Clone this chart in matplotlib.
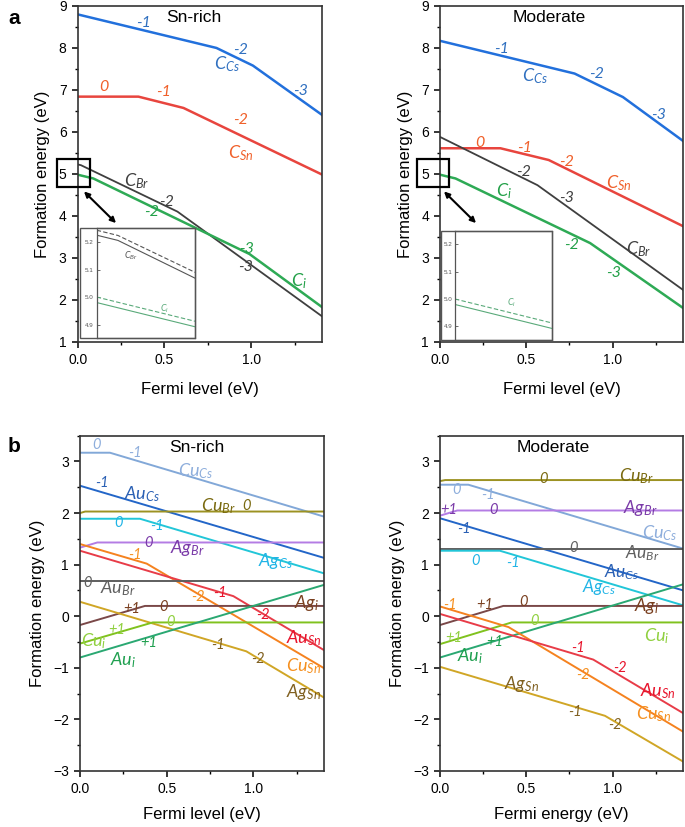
import matplotlib
matplotlib.use("Agg")
import matplotlib.pyplot as plt
from matplotlib.patches import Rectangle, FancyArrowPatch
from matplotlib.ticker import MultipleLocator, FormatStrFormatter

plt.rcParams['font.family'] = ['Liberation Sans', 'DejaVu Sans']
plt.rcParams['mathtext.fontset'] = 'custom'
plt.rcParams['mathtext.it'] = 'Lato:italic'
plt.rcParams['mathtext.rm'] = 'Lato'

# ---- a, Sn-rich: kinks of each carbon defect line (Fermi level, formation energy)
rich_ccs_x = [0.0, 0.80, 1.01, 1.41]
rich_ccs_y = [8.80, 8.00, 7.58, 6.40]
rich_csn_x = [0.0, 0.35, 0.61, 1.41]
rich_csn_y = [6.84, 6.84, 6.57, 4.98]
rich_cbr_x = [0.0, 0.019, 0.575, 1.41]
rich_cbr_y = [5.225, 5.206, 4.10, 1.60]
rich_ci_x = [0.0, 0.09, 0.99, 1.41]
rich_ci_y = [4.98, 4.89, 3.09, 1.82]

# ---- a, Moderate
mod_ccs_x = [0.0, 0.78, 1.06, 1.41]
mod_ccs_y = [8.17, 7.39, 6.83, 5.78]
mod_csn_x = [0.0, 0.35, 0.63, 1.41]
mod_csn_y = [5.61, 5.61, 5.33, 3.75]
mod_cbr_x = [0.0, 0.565, 1.41]
mod_cbr_y = [5.88, 4.73, 2.23]
mod_ci_x = [0.0, 0.09, 0.87, 1.41]
mod_ci_y = [4.98, 4.89, 3.35, 1.80]

# dashed companions shown in the zoomed insets
cbr_dash_x = [0.0, 0.019, 0.088]
cbr_dash_y = [5.243, 5.224, 5.090]
ci_dash_x = [0.0, 0.088]
ci_dash_y = [5.000, 4.912]

# ---- b, Sn-rich: metal impurity lines
b_rich = {
    'CuCs': ([0.0, 0.173, 1.41], [3.17, 3.17, 1.93]),
    'AuCs': ([0.0, 1.41], [2.53, 1.13]),
    'CuBr': ([0.0, 0.03, 1.41], [2.00, 2.03, 2.03]),
    'AgCs': ([0.0, 0.346, 1.41], [1.89, 1.89, 0.83]),
    'AgBr': ([0.0, 0.10, 1.41], [1.33, 1.43, 1.43]),
    'CuSn': ([0.0, 0.385, 1.41], [1.40, 1.02, -1.01]),
    'AuSn': ([0.0, 0.885, 1.41], [1.27, 0.39, -0.66]),
    'AuBr': ([0.0, 1.41], [0.685, 0.685]),
    'Agi': ([0.0, 0.375, 1.41], [-0.17, 0.20, 0.20]),
    'AgSn': ([0.0, 0.96, 1.41], [0.28, -0.68, -1.58]),
    'Cui': ([0.0, 0.42, 1.41], [-0.53, -0.12, -0.12]),
    'Aui': ([0.0, 1.41], [-0.80, 0.61]),
}

# ---- b, Moderate
b_mod = {
    'CuBr': ([0.0, 0.03, 1.41], [2.62, 2.64, 2.64]),
    'CuCs': ([0.0, 0.164, 1.41], [2.55, 2.55, 1.31]),
    'AgBr': ([0.0, 0.10, 1.41], [1.95, 2.05, 2.05]),
    'AuCs': ([0.0, 1.41], [1.90, 0.50]),
    'AuBr': ([0.0, 1.41], [1.30, 1.30]),
    'AgCs': ([0.0, 0.347, 1.41], [1.27, 1.27, 0.21]),
    'Agi': ([0.0, 0.367, 1.41], [-0.17, 0.20, 0.20]),
    'Cui': ([0.0, 0.415, 1.41], [-0.54, -0.12, -0.12]),
    'Aui': ([0.0, 1.41], [-0.80, 0.62]),
    'CuSn': ([0.0, 0.397, 1.41], [0.19, -0.21, -2.24]),
    'AuSn': ([0.0, 0.888, 1.41], [0.045, -0.84, -1.88]),
    'AgSn': ([0.0, 0.956, 1.41], [-0.98, -1.93, -2.82]),
}

line_col = {
    'CCs': '#2270dc', 'CSn': '#e8453e', 'CBr': '#3f3f3f', 'Ci': '#2eaa55',
    'CuCs': '#82a8d8', 'AuCs': '#2366c8', 'CuBr': '#9c9222', 'AgCs': '#22c6d8',
    'AgBr': '#b47ce4', 'CuSn': '#f5821f', 'AuSn': '#e83c48', 'AuBr': '#5e5e5e',
    'Agi': '#7a4848', 'AgSn': '#d0a626', 'Cui': '#80c21e', 'Aui': '#2aa872',
}
text_col = {
    'CCs': '#3070c0', 'CSn': '#f0602a', 'CBr': '#404040', 'Ci': '#22a048',
    'CuCs': '#8eaedc', 'AuCs': '#2a60b4', 'CuBr': '#7a6a10', 'AgCs': '#20b4e6',
    'AgBr': '#7a3aa8', 'CuSn': '#f59020', 'AuSn': '#e8142c', 'AuBr': '#606060',
    'Agi': '#7a4020', 'AgSn': '#806020', 'Cui': '#90d040', 'Aui': '#20a050',
}

W, H = 685, 827
fig = plt.figure(figsize=(W / 100, H / 100), dpi=100)


def px_axes(x0, y0, x1, y1):
    return fig.add_axes([x0 / W, 1 - y1 / H, (x1 - x0) / W, (y1 - y0) / H])


def style(ax, ylim, xlabel, xpad):
    ax.set_xlim(0, 1.41)
    ax.set_ylim(*ylim)
    ax.xaxis.set_major_locator(MultipleLocator(0.5))
    ax.xaxis.set_minor_locator(MultipleLocator(0.25))
    ax.xaxis.set_major_formatter(FormatStrFormatter('%.1f'))
    ax.yaxis.set_major_locator(MultipleLocator(1))
    ax.yaxis.set_minor_locator(MultipleLocator(0.5))
    ax.tick_params(which='major', length=4, width=1.1, labelsize=10, pad=4)
    ax.tick_params(which='minor', length=2.5, width=1.0)
    for s in ax.spines.values():
        s.set_linewidth(1.2)
        s.set_color('#333333')
    ax.set_ylabel('Formation energy (eV)', fontsize=12, labelpad=6)
    ax.set_xlabel(xlabel, fontsize=12, labelpad=xpad)


def lab(ax, txt, x, y, key, size=11.5):
    ax.text(x, y, txt, color=text_col[key], fontsize=size, fontstyle='italic',
            family='Lato', ha='center', va='center')


def sub(a, b):
    return r'$%s_{%s}$' % (a, b)


# ================= panel a =================
axL = px_axes(77.7, 6, 322.3, 341.7)
axR = px_axes(440, 6, 683.3, 341.7)
for ax in (axL, axR):
    style(ax, (1, 9), 'Fermi level (eV)', 11)

for ax, series in ((axL, [('CCs', rich_ccs_x, rich_ccs_y), ('CSn', rich_csn_x, rich_csn_y),
                          ('CBr', rich_cbr_x, rich_cbr_y), ('Ci', rich_ci_x, rich_ci_y)]),
                   (axR, [('CCs', mod_ccs_x, mod_ccs_y), ('CSn', mod_csn_x, mod_csn_y),
                          ('CBr', mod_cbr_x, mod_cbr_y), ('Ci', mod_ci_x, mod_ci_y)])):
    for key, x, y in series:
        lw = 1.3 if key == 'CBr' else 1.8
        ax.plot(x, y, color=line_col[key], lw=lw, solid_joinstyle='round')

axL.text(0.667, 8.73, 'Sn-rich', fontsize=12.5, ha='center', va='center')
axR.text(0.631, 8.73, 'Moderate', fontsize=12.5, ha='center', va='center')

for t, x, y, k in [('-1', 0.379, 8.59, 'CCs'), ('-2', 0.94, 7.95, 'CCs'), ('-3', 1.283, 6.98, 'CCs'),
                   ('0', 0.148, 7.06, 'CSn'), ('-1', 0.494, 6.96, 'CSn'), ('-2', 0.937, 6.28, 'CSn'),
                   ('-2', 0.513, 4.34, 'CBr'), ('-3', 0.965, 2.79, 'CBr'),
                   ('-2', 0.427, 4.10, 'Ci'), ('-3', 0.975, 3.22, 'Ci')]:
    lab(axL, t, x, y, k, 11.5)
lab(axL, sub('C', 'Cs'), 0.86, 7.62, 'CCs', 13)
lab(axL, sub('C', 'Sn'), 0.94, 5.50, 'CSn', 13)
lab(axL, sub('C', 'Br'), 0.34, 4.82, 'CBr', 13)
lab(axL, sub('C', 'i'), 1.273, 2.45, 'Ci', 13)

for t, x, y, k in [('-1', 0.357, 7.98, 'CCs'), ('-2', 0.907, 7.38, 'CCs'), ('-3', 1.264, 6.40, 'CCs'),
                   ('0', 0.232, 5.74, 'CSn'), ('-1', 0.492, 5.62, 'CSn'), ('-2', 0.734, 5.29, 'CSn'),
                   ('-2', 0.483, 5.05, 'CBr'), ('-3', 0.734, 4.42, 'CBr'),
                   ('-2', 0.762, 3.30, 'Ci'), ('-3', 1.003, 2.63, 'Ci')]:
    lab(axR, t, x, y, k, 11.5)
lab(axR, sub('C', 'Cs'), 0.55, 7.32, 'CCs', 13)
lab(axR, sub('C', 'Sn'), 1.035, 4.78, 'CSn', 13)
lab(axR, sub('C', 'Br'), 1.15, 3.20, 'CBr', 13)
lab(axR, sub('C', 'i'), 0.37, 4.58, 'Ci', 13)

# black boxes marking the zoomed region
for ax, x0 in ((axL, -0.12), (axR, -0.135)):
    ax.add_patch(Rectangle((x0, 4.68), 0.19, 0.67, fill=False, lw=1.6,
                           edgecolor='black', clip_on=False, zorder=5))


# insets
def inset(frame_x0, spine_x, x1, y0, y1, ci_x, ci_y, show_br):
    fig.add_artist(Rectangle((frame_x0 / W, 1 - y1 / H), (x1 - frame_x0) / W, (y1 - y0) / H,
                             transform=fig.transFigure, facecolor='white',
                             edgecolor='#555555', lw=1.0, zorder=3))
    ia = px_axes(spine_x, y0, x1, y1)
    ia.set_zorder(4)
    ia.patch.set_alpha(0)
    ia.set_xlim(0, 0.088)
    ia.set_ylim(4.85, 5.25)
    ia.set_xticks([])
    ia.set_yticks([4.9, 5.0, 5.1, 5.2])
    ia.yaxis.set_major_formatter(FormatStrFormatter('%.1f'))
    ia.tick_params(axis='y', direction='in', length=2, width=0.6, labelsize=4.5,
                   pad=2, colors='#555555')
    for s in ia.spines.values():
        s.set_linewidth(0.9)
        s.set_color('#555555')
    ia.plot(ci_dash_x, ci_dash_y, color='#5aaa7a', lw=0.8, ls=(0, (4, 2)))
    ia.plot(ci_x, ci_y, color='#5aaa7a', lw=0.8)
    if show_br:
        ia.plot(cbr_dash_x, cbr_dash_y, color='#555555', lw=0.8, ls=(0, (4, 2)))
        ia.plot(rich_cbr_x, rich_cbr_y, color='#555555', lw=0.8)
        ia.text(0.031, 5.149, sub('C', 'Br'), color='#555555', fontsize=6.5, ha='center', va='center')
        ia.text(0.061, 4.957, sub('C', 'i'), color='#5aaa7a', fontsize=6.5, ha='center', va='center')
    else:
        ia.text(0.051, 4.988, sub('C', 'i'), color='#5aaa7a', fontsize=6.5, ha='center', va='center')


inset(80, 96.7, 195, 228.3, 338.3, rich_ci_x, rich_ci_y, True)
inset(440.7, 455, 552.3, 230.7, 340, mod_ci_x, mod_ci_y, False)

for (xa, ya, xb, yb) in ((82, 189.5, 118, 225), (442, 189.5, 478, 225)):
    fig.add_artist(FancyArrowPatch(
        (xa / W, 1 - ya / H), (xb / W, 1 - yb / H), transform=fig.transFigure,
        arrowstyle='<|-|>', mutation_scale=8, lw=1.5, color='black', zorder=6))

# ================= panel b =================
bL = px_axes(80, 435.7, 324.3, 771)
bR = px_axes(440, 435.7, 683.3, 771)
style(bL, (-3, 3.5), 'Fermi level (eV)', 8)
style(bR, (-3, 3.5), 'Fermi energy (eV)', 8)

for ax, data in ((bL, b_rich), (bR, b_mod)):
    for key, (x, y) in data.items():
        ax.plot(x, y, color=line_col[key], lw=1.4)

bL.text(0.673, 3.28, 'Sn-rich', fontsize=12.5, ha='center', va='center')
bR.text(0.656, 3.28, 'Moderate', fontsize=12.5, ha='center', va='center')

names = {'CuCs': ('Cu', 'Cs'), 'AuCs': ('Au', 'Cs'), 'CuBr': ('Cu', 'Br'), 'AgCs': ('Ag', 'Cs'),
         'AgBr': ('Ag', 'Br'), 'CuSn': ('Cu', 'Sn'), 'AuSn': ('Au', 'Sn'), 'AuBr': ('Au', 'Br'),
         'Agi': ('Ag', 'i'), 'AgSn': ('Ag', 'Sn'), 'Cui': ('Cu', 'i'), 'Aui': ('Au', 'i')}

rich_names = [('CuCs', 0.67, 2.82), ('AuCs', 0.36, 2.37), ('CuBr', 0.80, 2.14), ('AgCs', 1.13, 1.07),
              ('AgBr', 0.62, 1.33), ('CuSn', 1.29, -0.96), ('AuSn', 1.29, -0.42), ('AuBr', 0.22, 0.55),
              ('Agi', 1.31, 0.26), ('Cui', 0.08, -0.48), ('Aui', 0.25, -0.85), ('AgSn', 1.29, -1.46)]
rich_charges = [('0', 0.096, 3.32, 'CuCs'), ('-1', 0.317, 3.16, 'CuCs'), ('-1', 0.125, 2.58, 'AuCs'),
                ('0', 0.962, 2.14, 'CuBr'), ('0', 0.22, 1.80, 'AgCs'), ('-1', 0.442, 1.74, 'AgCs'),
                ('0', 0.394, 1.42, 'AgBr'), ('-1', 0.317, 1.19, 'CuSn'), ('-2', 0.683, 0.38, 'CuSn'),
                ('-1', 0.808, 0.45, 'AuSn'), ('-2', 1.058, 0.03, 'AuSn'), ('0', 0.044, 0.64, 'AuBr'),
                ('+1', 0.298, 0.14, 'Agi'), ('0', 0.48, 0.17, 'Agi'), ('+1', 0.21, -0.27, 'Cui'),
                ('0', 0.52, -0.12, 'Cui'), ('+1', 0.394, -0.52, 'Aui'), ('-1', 0.798, -0.56, 'AgSn'),
                ('-2', 1.029, -0.83, 'AgSn')]

mod_names = [('CuBr', 1.14, 2.72), ('CuCs', 1.275, 1.62), ('AgBr', 1.16, 2.09), ('AuCs', 1.05, 0.86),
             ('AuBr', 1.17, 1.22), ('AgCs', 0.92, 0.56), ('Agi', 1.20, 0.20), ('CuSn', 1.235, -1.90),
             ('Cui', 1.255, -0.38), ('Aui', 0.175, -0.77), ('AuSn', 1.265, -1.46), ('AgSn', 0.475, -1.32)]
mod_charges = [('0', 0.598, 2.66, 'CuBr'), ('0', 0.097, 2.44, 'CuCs'), ('-1', 0.28, 2.35, 'CuCs'),
               ('+1', 0.052, 2.05, 'AgBr'), ('0', 0.309, 2.05, 'AgBr'), ('-1', 0.139, 1.69, 'AuCs'),
               ('0', 0.772, 1.32, 'AuBr'), ('0', 0.203, 1.07, 'AgCs'), ('-1', 0.425, 1.04, 'AgCs'),
               ('+1', 0.261, 0.22, 'Agi'), ('0', 0.482, 0.28, 'Agi'), ('-1', 0.058, 0.22, 'CuSn'),
               ('-2', 0.83, -1.14, 'CuSn'), ('+1', 0.077, -0.43, 'Cui'), ('0', 0.546, -0.10, 'Cui'),
               ('+1', 0.318, -0.49, 'Aui'), ('-1', 0.801, -0.62, 'AuSn'), ('-2', 1.042, -1.01, 'AuSn'),
               ('-1', 0.782, -1.85, 'AgSn'), ('-2', 1.013, -2.11, 'AgSn')]

for ax, nm, ch in ((bL, rich_names, rich_charges), (bR, mod_names, mod_charges)):
    for key, x, y in nm:
        size = 12.5 if ax is bR and key in ('AuCs', 'AgCs', 'AuBr') else 13
        lab(ax, sub(*names[key]), x, y, key, size)
    for t, x, y, key in ch:
        lab(ax, t, x, y, key, 10.5)

fig.text(8 / W, 1 - 18 / H, 'a', fontsize=15, fontweight='bold', va='center', ha='left')
fig.text(8 / W, 1 - 447 / H, 'b', fontsize=15, fontweight='bold', va='center', ha='left')

fig.savefig('out.png', dpi=100)
